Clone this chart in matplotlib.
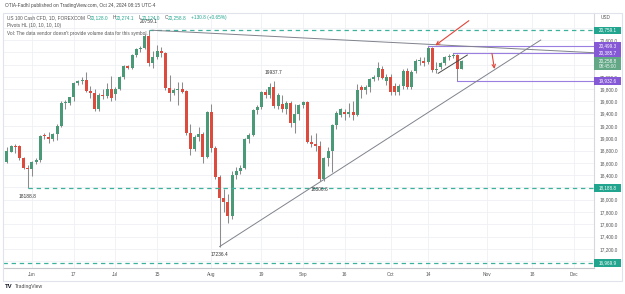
import numpy as np
import pandas as pd
import matplotlib
matplotlib.use("Agg")
import matplotlib.pyplot as plt
from matplotlib.patches import Rectangle
from matplotlib import transforms as mtrans

plt.rcParams['font.family'] = ['Liberation Sans', 'DejaVu Sans']

# daily candles, US 100 Cash CFD, 24 May 2024 .. 24 Oct 2024 (weekdays)
dates = pd.bdate_range('2024-05-24', '2024-10-24')
opens = [18608, 18780, 18870, 18873, 18673, 18520, 18504, 18608, 18640, 19036,
         19025, 18982, 19069, 19204, 19575, 19569, 19667, 19895, 19932, 19948,
         19774, 19732, 19471, 19690, 19688, 19802, 19720, 19802, 19992, 20176,
         20139, 20356, 20449, 20475, 20670, 20220, 20328, 20421, 20383, 19813,
         19742, 19790, 19802, 19769, 19090, 18819, 19025, 19064, 18699, 19432,
         18835, 18372, 18021, 17966, 17733, 18400, 18470, 18510, 18987, 19052,
         19460, 19504, 19758, 19704, 19829, 19525, 19560, 19471, 19569, 19243,
         19389, 19541, 19595, 18943, 18906, 18873, 18330, 18673, 18797, 19215,
         19380, 19432, 19390, 19420, 19378, 19839, 19785, 19830, 19965, 20003,
         20128, 19932, 20003, 19856, 19748, 19850, 20100, 19830, 20095, 20258,
         20260, 20237, 20465, 20110, 20155, 20221, 20328, 20340, 20356, 20128.0]
highs = [18850, 18890, 18900, 18890, 18690, 18560, 18630, 18680, 19050, 19080,
         19096, 19090, 19230, 19600, 19620, 19680, 19920, 19950, 19990, 20084,
         19850, 19800, 19740, 19800, 19900, 20010, 19830, 20010, 20190, 20200,
         20370, 20470, 20500, 20690, 20759.1, 20420, 20520, 20490, 20400, 20030,
         19820, 19921, 19920, 19790, 19240, 19060, 19180, 19110, 19440, 19560,
         18880, 18400, 18180, 18100, 18460, 18530, 18560, 19000, 19080, 19480,
         19540, 19770, 19800, 19900, 19937.7, 19740, 19700, 19600, 19600, 19560,
         19560, 19600, 19610, 19050, 19080, 18960, 18700, 18850, 19240, 19440,
         19500, 19480, 19580, 19600, 19880, 19870, 19860, 19980, 20030, 20250,
         20180, 20040, 20040, 19900, 19880, 20130, 20150, 20110, 20290, 20330,
         20320, 20499.3, 20480, 20240, 20240, 20340, 20370, 20385.7, 20370, 20274.1]
lows = [18590, 18770, 18760, 18650, 18500, 18188.8, 18385, 18580, 18620, 18990,
        18917, 18960, 18971, 19190, 19480, 19540, 19600, 19860, 19880, 19760,
        19650, 19450, 19450, 19640, 19660, 19600, 19630, 19780, 19970, 20120,
        20120, 20320, 20400, 20460, 20180, 20150, 20290, 20330, 19790, 19610,
        19700, 19541, 19740, 19060, 18720, 18800, 18960, 18600, 18680, 18780,
        18330, 17236.4, 17800, 17620, 17690, 18330, 18420, 18500, 18920, 19040,
        19400, 19480, 19660, 19650, 19500, 19480, 19430, 19400, 19180, 19090,
        19300, 19500, 18930, 18850, 18800, 18306.6, 18310, 18550, 18450, 19150,
        19350, 19300, 19340, 19300, 19370, 19650, 19720, 19760, 19930, 19950,
        19960, 19860, 19700, 19700, 19700, 19800, 19800, 19800, 20060, 20200,
        20180, 20210, 20080, 20058, 20120, 20190, 20280, 20300, 19932.6, 20124.0]
closes = [18797, 18873, 18862, 18673, 18520, 18500, 18608, 18645, 19036, 19030,
          18982, 19069, 19204, 19569, 19590, 19667, 19895, 19932, 19945, 19774,
          19732, 19471, 19704, 19688, 19802, 19650, 19802, 19992, 20176, 20139,
          20356, 20449, 20475, 20670, 20220, 20328, 20426, 20383, 19813, 19742,
          19785, 19797, 19758, 19090, 18819, 19025, 19064, 18699, 19432, 18835,
          18372, 18021, 17966, 17733, 18400, 18470, 18510, 18987, 19052, 19460,
          19504, 19758, 19704, 19829, 19525, 19704, 19471, 19569, 19243, 19389,
          19541, 19595, 18943, 18906, 18873, 18330, 18673, 18797, 19215, 19406,
          19476, 19400, 19430, 19380, 19785, 19785, 19830, 19965, 20003, 20139,
          19976, 20003, 19748, 19748, 19856, 20100, 19830, 20084, 20258, 20270,
          20230, 20465, 20111, 20120, 20221, 20328, 20340, 20360, 20123, 20258.8]

# pivot labels (date, price, above/below)
pivot_labels = [('2024-07-11', 20759.1, 1), ('2024-05-31', 18188.8, -1),
                ('2024-08-05', 17236.4, -1), ('2024-08-22', 19937.7, 1),
                ('2024-09-06', 18306.6, -1)]
# horizontal levels: (start date or None, price, kind)
levels = [('2024-07-11', 20759.1, 'teal'), ('2024-05-31', 18188.8, 'teal'),
          (None, 16969.9, 'teal'), ('2024-10-14', 20499.3, 'purple'),
          ('2024-10-22', 20385.7, 'purple'), ('2024-10-23', 19932.6, 'purple')]

tick_dates = ['2024-06-03', '2024-06-17', '2024-07-01', '2024-07-15', '2024-08-01',
              '2024-08-19', '2024-09-02', '2024-09-16', '2024-10-01', '2024-10-14',
              '2024-11-01', '2024-11-18', '2024-12-02']
tick_labels = ['Jun', '17', 'Jul', '15', 'Aug', '19', 'Sep', '16', 'Oct', '14',
               'Nov', '18', 'Dec']

UP = '#4a9a78'
DOWN = '#dc4b3e'
TEAL = '#3bb39c'
PURPLE = '#9a7ee0'

all_days = pd.bdate_range('2024-05-24', '2024-12-31')
pos = {d.strftime('%Y-%m-%d'): i for i, d in enumerate(all_days)}

W, H = 625, 294
fig = plt.figure(figsize=(6.25, 2.94), dpi=100)


def fx(x):
    return x / W


def fy(y):
    return 1 - y / H


ax = fig.add_axes([fx(4), fy(268), fx(594) - fx(4), fy(12.7) - fy(268)])
ax.set_xlim(-0.71, 140.77)
ax.set_ylim(16887, 21045)
ppx = (ax.get_ylim()[1] - ax.get_ylim()[0]) / 255.3   # price per pixel

# candles
x = np.arange(len(dates))
o, h, l, c = map(np.array, (opens, highs, lows, closes))
cols = np.where(c >= o, UP, DOWN)
ax.vlines(x, l, h, colors='#8c8c8c', lw=0.75, zorder=2)
body = np.maximum(np.abs(c - o), ppx)
ax.bar(x, body, bottom=np.minimum(o, c), width=0.72, color=cols, zorder=3)

# horizontal levels
x_right = ax.get_xlim()[1]
for start, p, kind in levels:
    x0 = -1 if start is None else pos[start]
    if kind == 'teal':
        ax.plot([x0, x_right], [p, p], color=TEAL, lw=0.9, ls=(0, (3.5, 3)), zorder=4)
    else:
        ax.plot([x0, x_right], [p, p], color=PURPLE, lw=0.8, zorder=4)


def extend(p0, p1, x_end):
    (xa, ya), (xb, yb) = p0, p1
    k = (yb - ya) / (xb - xa)
    return [xa, x_end], [ya, ya + k * (x_end - xa)]


# trend lines
xs, ys = extend((pos['2024-07-11'] + 0.8, 20759.1), (pos['2024-10-15'], 20527), x_right)
ax.plot(xs, ys, color='#80838c', lw=0.7, zorder=4)
ax.plot([pos['2024-08-05'], pos['2024-11-20']], [17236.4, 20600], color='#80838c', lw=0.7, zorder=4)
ax.plot([pos['2024-10-16'] + 0.4, pos['2024-10-25'] + 0.4], [20058, 20356], color='#4a4a4a', lw=0.7, zorder=4)

# red arrows
ax.annotate('', xy=(pos['2024-10-15'] + 0.2, 20486), xytext=(pos['2024-10-28'] + 0.3, 20942),
            arrowprops=dict(arrowstyle='->', color='#e0453a', lw=0.8, mutation_scale=6), zorder=6)
ax.annotate('', xy=(pos['2024-11-05'], 20084), xytext=(pos['2024-11-04'] + 0.2, 20426),
            arrowprops=dict(arrowstyle='->', color='#e0453a', lw=0.8, mutation_scale=6), zorder=6)

# pivot labels
for d, p, side in pivot_labels:
    ax.annotate(f'{p:.1f}', xy=(pos[d], p), xytext=(0, 6 * side), textcoords='offset points',
                ha='center', va='center', fontsize=3.5, color='#333333', zorder=7)

# grid / axes
ax.set_xticks([pos[d] for d in tick_dates])
ax.set_xticklabels(tick_labels)
box_prices = [p for _, p, _ in levels] + [closes[-1]]
yt = np.arange(17000, 21000, 200)
ax.yaxis.tick_right()
ax.set_yticks(yt)
ax.set_yticklabels(['' if min(abs(v - b) for b in box_prices) < 4 * ppx else f'{v:,.1f}'
                    for v in yt])
ax.tick_params(axis='both', length=0, labelsize=3.4, colors='#555555')
ax.tick_params(axis='x', pad=3)
ax.tick_params(axis='y', pad=4)
ax.grid(True, color='#eef0f5', lw=0.6)
ax.set_axisbelow(True)
for s in ('top', 'left'):
    ax.spines[s].set_visible(False)
ax.spines['right'].set_color('#d6d8de')
ax.spines['bottom'].set_color('#c4c6cc')
ax.spines['right'].set_linewidth(0.8)
ax.spines['bottom'].set_linewidth(0.8)

# price boxes on the axis
trans = mtrans.blended_transform_factory(ax.transAxes, ax.transData)
bw = 27 / 590.0


def price_box(p, color, text2=None):
    hgt = 7.5 * ppx if text2 is None else 13 * ppx
    top = p + 3.75 * ppx
    ax.add_patch(Rectangle((1.0, top - hgt), bw, hgt, transform=trans, clip_on=False,
                           fc=color, ec='none', zorder=8))
    ax.text(1.0 + bw / 2, p, f'{p:,.1f}', transform=trans, ha='center', va='center',
            fontsize=3.3, color='white', clip_on=False, zorder=9)
    if text2:
        ax.text(1.0 + bw / 2, p - 6 * ppx, text2, transform=trans, ha='center', va='center',
                fontsize=3.3, color='#eaf5ef', clip_on=False, zorder=9)


for start, p, kind in levels:
    price_box(p, '#22a58e' if kind == 'teal' else '#8558d6')
price_box(closes[-1], '#62a786', '08:45:00')

# frame around the widget
fig.patches.append(Rectangle((fx(3), fy(281)), fx(622) - fx(3), fy(12.7) - fy(281),
                             transform=fig.transFigure, fill=False, ec='#e0e3eb', lw=0.8))
fig.text(fx(601), fy(17.5), 'USD', fontsize=3.4, color='#555555', va='center')

# header / legend
FS = 3.4
fig.text(fx(5), fy(6), 'OTIA-Fadhl published on TradingView.com, Oct 24, 2024 08:15 UTC-4',
         fontsize=FS, color='#444444', va='center')
fig.text(fx(7), fy(17.3), 'US 100 Cash CFD, 1D, FOREXCOM', fontsize=FS, color='#555555', va='center')
for lab, val, xp in [('O', '20,128.0', 87), ('H', '20,274.1', 113), ('L', '20,124.0', 139),
                     ('C', '20,258.8', 165)]:
    fig.text(fx(xp), fy(17.3), lab, fontsize=FS, color='#555555', va='center')
    fig.text(fx(xp + 3.2), fy(17.3), val, fontsize=FS, color='#22a58e', va='center')
fig.text(fx(191), fy(17.3), '+130.8 (+0.65%)', fontsize=FS, color='#22a58e', va='center')
fig.text(fx(7), fy(25.3), 'Pivots HL (10, 10, 10, 10)', fontsize=FS, color='#555555', va='center')
fig.text(fx(7), fy(33.3), "Vol: The data vendor doesn't provide volume data for this symbol.",
         fontsize=FS, color='#555555', va='center')

# footer logo
fig.text(fx(5), fy(286.5), 'TV', fontsize=4.3, color='#131722', va='center', fontweight='bold')
fig.text(fx(14.5), fy(286.5), 'TradingView', fontsize=3.6, color='#444444', va='center')

fig.savefig('out.png', dpi=100)
